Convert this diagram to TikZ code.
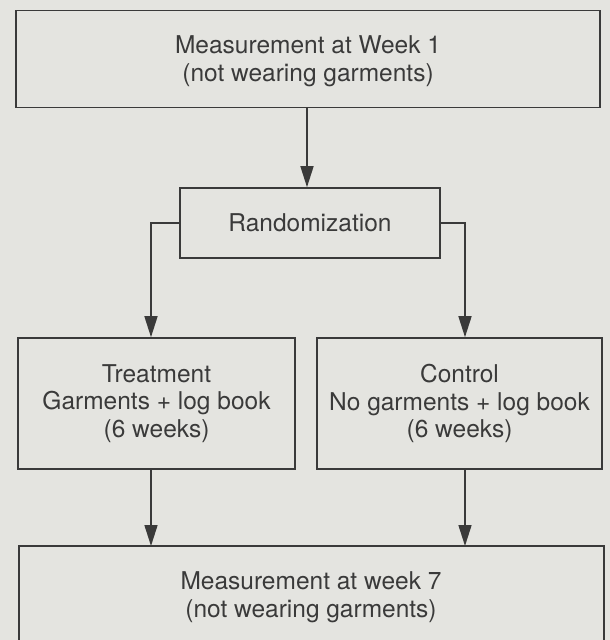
\documentclass[tikz,border=0pt]{standalone}
\usepackage{fontspec}
\setmainfont{TeX Gyre Heros}
\usetikzlibrary{arrows.meta}
\definecolor{bg}{HTML}{E4E4E0}
\definecolor{ink}{HTML}{3A3A3A}
\tikzset{
  box/.style={draw=ink, line width=1.6pt, inner sep=0pt, align=center, text=ink,
    font=\fontsize{24.5}{27.5}\selectfont},
  conn/.style={draw=ink, line width=1.6pt, -{Triangle[length=21pt,width=13pt]}},
  plain/.style={draw=ink, line width=1.6pt}
}
\begin{document}
\begin{tikzpicture}[x=1pt,y=-1pt]
\fill[bg] (0,0) rectangle (610,640);
\useasboundingbox (0,0) rectangle (610,640);
\node[box, minimum width=584pt, minimum height=97pt] (top) at (308,59) {\raisebox{-3pt}[\height][\depth]{\begin{tabular}{@{}c@{}}Measurement at Week 1\\(not wearing garments)\end{tabular}}};
\node[box, minimum width=260pt, minimum height=70pt] (rand) at (310,223) {Randomization};
\node[box, minimum width=277pt, minimum height=131pt] (treat) at (156.5,403.5) {Treatment\\Garments + log book\\(6 weeks)};
\node[box, minimum width=285pt, minimum height=131pt] (ctrl) at (459.5,403.5) {Control\\No garments + log book\\(6 weeks)};
\begin{scope}
\clip (0,0) rectangle (610,640);
\draw[plain] (19,660) -- (19,546) coordinate (bl) -- (604,546) coordinate (br) -- (604,660);
\end{scope}
\node[text=ink, align=center, font=\fontsize{24.5}{27.5}\selectfont] (bot) at (311,597) {Measurement at week 7\\(not wearing garments)};
\coordinate (tl) at (151,546);
\coordinate (tr) at (465,546);
\draw[conn] (top.south -| 307,0) -- (rand.north -| 307,0);
\draw[conn] (rand.west) -| (treat.north -| 151,0);
\draw[conn] (rand.east) -| (ctrl.north -| 465,0);
\draw[conn] (treat.south -| 151,0) -- (tl);
\draw[conn] (ctrl.south -| 465,0) -- (tr);
\end{tikzpicture}
\end{document}
